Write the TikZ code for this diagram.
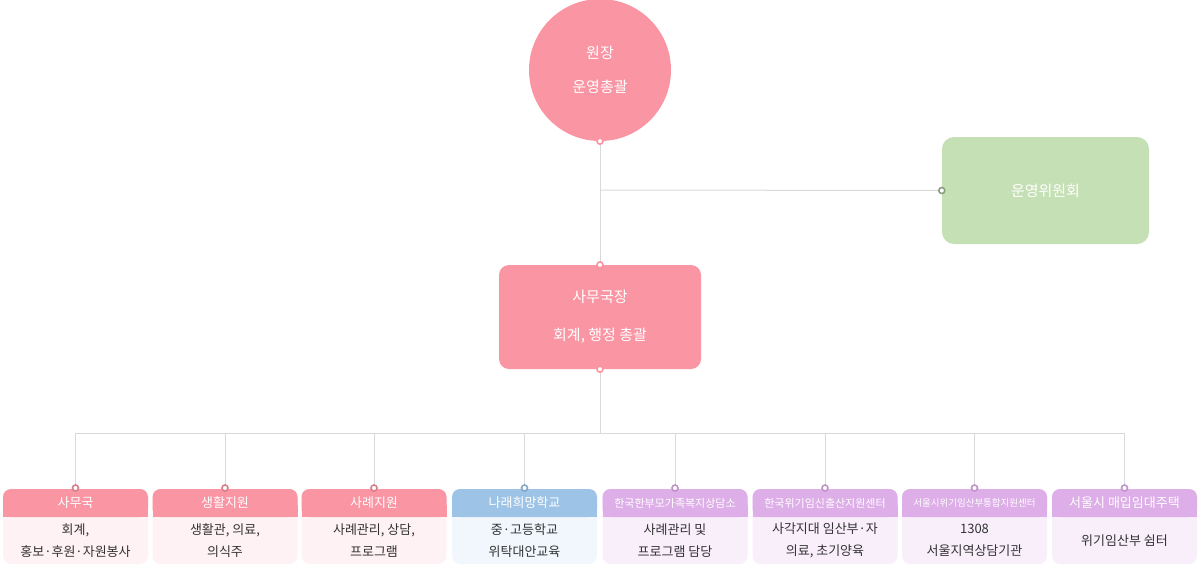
\documentclass[tikz,border=0pt]{standalone}
\usepackage{fontspec}
\setmainfont{Noto Sans CJK KR}
\begin{document}
\begin{tikzpicture}[x=1pt,y=-1pt,
 ln/.style={draw=black!15,line width=1pt},
 dot/.style={circle,draw=#1,fill=white,line width=1.6pt,inner sep=0pt,minimum size=6pt},
 hd/.style={fill=#1,text=white,rounded corners=8pt,minimum width=145pt,minimum height=28pt,inner sep=0pt,font=\fontsize{13}{15}\selectfont},
 bd/.style={fill=#1,rounded corners=8pt,minimum width=145pt,minimum height=48pt,inner sep=0pt,align=center,font=\fontsize{13}{20}\selectfont,text=black!80}]
\useasboundingbox (0,0) rectangle (1200,566);
\definecolor{pk}{HTML}{FA95A4}\definecolor{pkl}{HTML}{FFF2F4}
\definecolor{bl}{HTML}{9DC3E6}\definecolor{bll}{HTML}{F2F7FD}
\definecolor{pu}{HTML}{DDAEE8}\definecolor{pul}{HTML}{F8EFFB}
\definecolor{gr}{HTML}{C5E0B4}
\node[circle,fill=pk,minimum size=142pt,text=white,align=center,font=\fontsize{15}{34}\selectfont] (dir) at (600,70) {원장\\운영총괄};
\node[fill=gr,rounded corners=12pt,minimum width=207pt,minimum height=107pt,text=white,font=\fontsize{15}{18}\selectfont] (com) at (1045.5,190.5) {운영위원회};
\node[fill=pk,rounded corners=10pt,minimum width=202pt,minimum height=104pt,text=white,align=center,font=\fontsize{15}{38}\selectfont] (sec) at (600,317) {사무국장\\회계, 행정 총괄};
\coordinate (j1) at (600,190);
\coordinate (bus) at (600,433);
\draw[ln] (dir.south) -- (sec.north);
\draw[ln] (j1) -- (com.west);
\draw[ln] (sec.south) -- (bus);
\draw[ln] (76,433) -- (1125,433);
\node[dot=pk] at (dir.south) {};
\node[dot=pk] at (sec.north) {};
\node[dot=pk] at (sec.south) {};
\node[dot=gr!70!black] at (com.west) {};
\foreach \i/\x/\c/\cl/\h/\b/\fs in {
 1/75.5/pk/pkl/사무국/{회계,\\홍보·후원·자원봉사}/13,
 2/225/pk/pkl/생활지원/{생활관, 의료,\\의식주}/13,
 3/374/pk/pkl/사례지원/{사례관리, 상담,\\프로그램}/13,
 4/524.5/bl/bll/나래희망학교/{중·고등학교\\위탁대안교육}/13,
 5/675/pu/pul/한국한부모가족복지상담소/{사례관리 및\\프로그램 담당}/11,
 6/825/pu/pul/한국위기임신출산지원센터/{사각지대 임산부·자\\의료, 초기양육}/11,
 7/974.5/pu/pul/서울시위기임산부통합지원센터/{1308\\서울지역상담기관}/9.5,
 8/1124.5/pu/pul/서울시 매입임대주택/{위기임산부 쉼터}/13}{
 \fill[\cl,rounded corners=8pt] (\x-72.5,489) rectangle (\x+72.5,564);
 \fill[\c,rounded corners=8pt] (\x-72.5,489) rectangle (\x+72.5,517);
 \fill[\c] (\x-72.5,505) rectangle (\x+72.5,517);
 \node[text=white,font=\fontsize{\fs}{15}\selectfont] (h\i) at (\x,503) {\h};
 \node[align=center,font=\fontsize{13}{22}\selectfont,text=black!80] (b\i) at (\x,540.5) {\b};
 \draw[ln] (\x,433) -- (\x,488);
 \node[dot=\c!85!black] at (\x,488) {};
}
\end{tikzpicture}
\end{document}
